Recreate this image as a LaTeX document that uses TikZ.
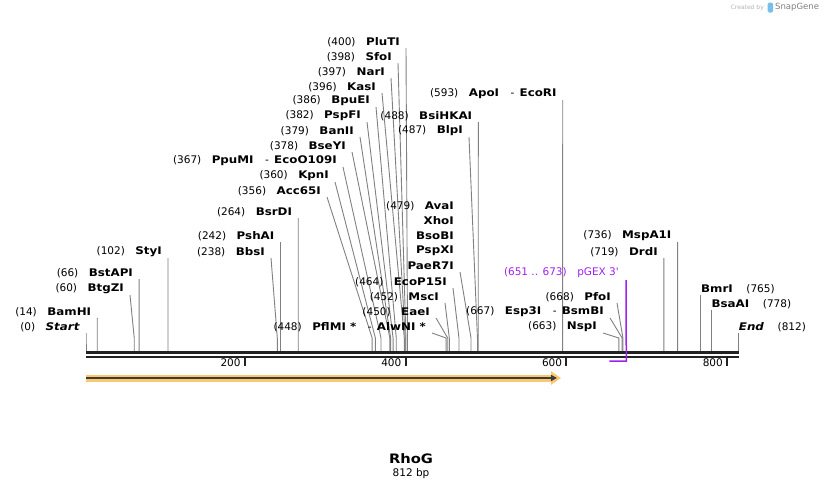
\documentclass[tikz,border=0pt]{standalone}
\usepackage{fontspec}
\setmainfont{DejaVu Sans}[BoldFeatures={FakeStretch=1.13},BoldItalicFeatures={FakeStretch=1.13}]
\usetikzlibrary{arrows.meta}
\definecolor{cutgray}{RGB}{128,128,128}
\definecolor{featorange}{RGB}{250,200,110}
\definecolor{featdark}{RGB}{60,60,60}
\definecolor{primerpurple}{RGB}{160,32,240}
\definecolor{axisblack}{RGB}{34,34,34}
\definecolor{logoblue}{RGB}{120,190,235}
\newcommand\gap{\hspace{1em}}
\newcommand\dash{\hspace{1.1em}-\hspace{0.5em}}

\begin{document}
\begin{tikzpicture}[x=1pt,y=-1pt]
\tikzset{enz/.style = {inner sep=0pt, font=\fontsize{10.5}{12}\selectfont}}
\tikzset{cut/.style = {draw=cutgray, line width=.9pt}}
\useasboundingbox (0,0) rectangle (824,490);

% sites left of the line ends
\foreach \nm/\txt/\lsx/\ly/\bp in {
  Start/{(0)\gap\textbf{\textit{Start}}}/86/327/0,
  BamHI/{(14)\gap\textbf{BamHI}}/97.3/312/14,
  BtgZI/{(60)\gap\textbf{BtgZI}}/130/289/60,
  BstAPI/{(66)\gap\textbf{BstAPI}}/139.1/273/66,
  StyI/{(102)\gap\textbf{StyI}}/168/252/102,
  BbsI/{(238)\gap\textbf{BbsI}}/271/252/238,
  PshAI/{(242)\gap\textbf{PshAI}}/280.5/236/242,
  BsrDI/{(264)\gap\textbf{BsrDI}}/298.2/212/264,
  AccI/{(356)\gap\textbf{Acc65I}}/327/191/356,
  KpnI/{(360)\gap\textbf{KpnI}}/335/176/360,
  PpuMI/{(367)\gap\textbf{PpuMI}\dash\textbf{EcoO109I}}/343/161/367,
  BseYI/{(378)\gap\textbf{BseYI}}/352/146/378,
  BanII/{(379)\gap\textbf{BanII}}/360/131/379,
  PspFI/{(382)\gap\textbf{PspFI}}/367/116/382,
  BpuEI/{(386)\gap\textbf{BpuEI}}/376/101/386,
  KasI/{(396)\gap\textbf{KasI}}/382/87/396,
  NarI/{(397)\gap\textbf{NarI}}/391/72/397,
  SfoI/{(398)\gap\textbf{SfoI}}/398/57/398,
  PluTI/{(400)\gap\textbf{PluTI}}/406/42/400,
  BsiHKAI/{(488)\gap\textbf{BsiHKAI}}/478.3/116/488,
  BlpI/{(487)\gap\textbf{BlpI}}/469/131/487,
  ApoI/{(593)\gap\textbf{ApoI}\dash\textbf{EcoRI}}/562.7/94/593,
  PaeRI/{\textbf{PaeR7I}}/460/266/479,
  EcoPI/{(464)\gap\textbf{EcoP15I}}/453/282/464,
  MscI/{(452)\gap\textbf{MscI}}/445/297/452,
  EaeI/{(450)\gap\textbf{EaeI}}/436/312/450,
  AlwNI/{(448)\gap\textbf{PflMI *}\dash\textbf{AlwNI *}}/432/327/448,
  PfoI/{(668)\gap\textbf{PfoI}}/617/297/668,
  EspI/{(667)\gap\textbf{Esp3I}\dash\textbf{BsmBI}}/610/312/667,
  NspI/{(663)\gap\textbf{NspI}}/603/327/663,
  DrdI/{(719)\gap\textbf{DrdI}}/663.9/252/719,
  MspAI/{(736)\gap\textbf{MspA1I}}/677.6/236/736}
  {\node[enz, anchor=east] (\nm) at (\lsx-6,\ly) {\txt};
   \pgfmathsetmacro\sx{86+0.8038*\bp}
   \coordinate (\nm-cut) at (\sx,351);
   \draw[cut] ([shift={(6,6)}]\nm.east) -- (\sx,338) -- (\nm-cut);}

% same cut as PaeR7I
\foreach \nm/\txt/\ly in {AvaI/{(479)\gap\textbf{AvaI}}/206, XhoI/{\textbf{XhoI}}/221,
  BsoBI/{\textbf{BsoBI}}/236, PspXI/{\textbf{PspXI}}/251}
  {\node[enz, anchor=east] (\nm) at (454,\ly) {\txt};}

% sites right of the line ends
\foreach \nm/\txt/\ly/\bp in {BmrI/{\textbf{BmrI}\hspace{1.3em}(765)}/289/765,
  BsaAI/{\textbf{BsaAI}\hspace{1.3em}(778)}/304/778,
  End/{\textbf{\textit{End}}\hspace{1.3em}(812)}/327/812}
  {\pgfmathsetmacro\sx{86+0.8038*\bp}
   \node[enz, anchor=west] (\nm) at (\sx,\ly) {\txt};
   \coordinate (\nm-cut) at (\sx,351);
   \draw[cut] ([shift={(0,6)}]\nm.west) -- (\nm-cut);}

% sequence line
\draw[axisblack, line width=2.6pt] (86,352.5) -- (738.7,352.5);
\draw[axisblack, line width=2.6pt] (86,356.8) -- (738.7,356.8);
\foreach \t in {200,400,600,800}
  {\pgfmathsetmacro\tx{84+0.8038*\t}
   \draw[axisblack, line width=2pt] (\tx,356) -- (\tx,366);
   \node[enz, anchor=east] (tick\t) at (\tx-4,363) {\t};}

% primer
\node[enz, anchor=east, text=primerpurple] (pgex) at (619,273) {(651 .. 673)\gap pGEX 3\textquotesingle};
\coordinate (pgex-end) at (609.3,361);
\draw[primerpurple, line width=1.5pt] ([shift={(7,7)}]pgex.east) -- (626.3,361) -- (pgex-end);

% feature
\draw[featorange, line width=7pt, -{Triangle[length=10pt,width=13pt]}] (86,378) -- (561,378);
\draw[featdark, line width=1.8pt, -{Triangle[length=6pt,width=6pt]}] (86,378) -- (557,378);

\node[inner sep=0pt, font=\bfseries\fontsize{13}{15}\selectfont] (title) at (411,459) {RhoG};
\node[enz] (len) at (411,474) {812 bp};

\node[anchor=east, inner sep=0pt, font=\fontsize{6}{7}\selectfont, text=black!30] (credit) at (764,7.5) {Created by};
\fill[logoblue, rounded corners=1.5pt] (767.5,2.5) rectangle (773,12.5);
\node[anchor=west, inner sep=0pt, font=\fontsize{8.5}{10}\selectfont, text=black!50] (brand) at (775,7.5) {SnapGene};

\end{tikzpicture}
\end{document}
